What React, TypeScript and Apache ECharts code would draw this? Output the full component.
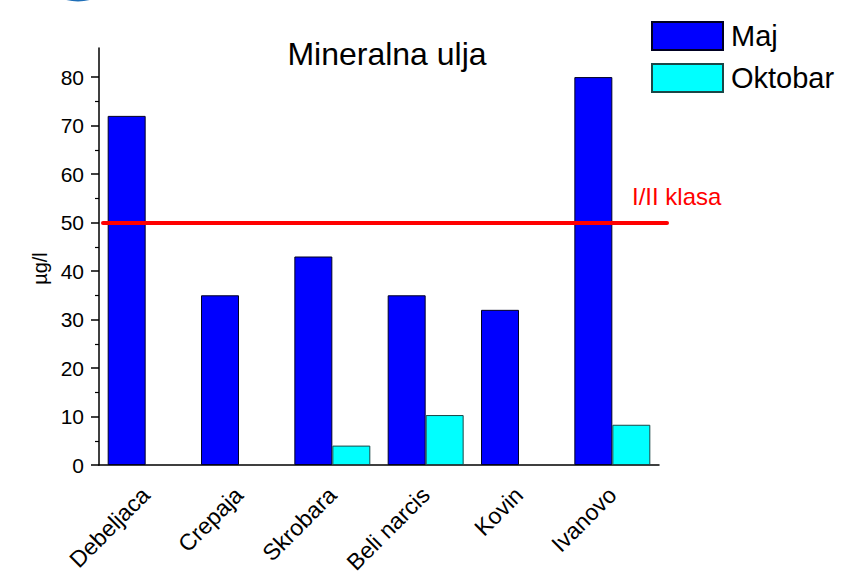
import React, { useEffect, useRef } from "react";
import * as echarts from "echarts";

const categories = ["Debeljaca", "Crepaja", "Skrobara", "Beli narcis", "Kovin", "Ivanovo"];
const majValues: (number | null)[] = [72, 35, 43, 35, 32, 80];
const oktobarValues: (number | null)[] = [null, null, 4, 10.3, null, 8.3];
const yMajorTicks = [0, 10, 20, 30, 40, 50, 60, 70, 80];
const yMinorTicks = [5, 15, 25, 35, 45, 55, 65, 75];
const limitValue = 50;
const limitLabel = "I/II klasa";

const FONT = "'Liberation Sans', Arial, sans-serif";

export default function App() {
  const ref = useRef<HTMLDivElement>(null);
  useEffect(() => {
    const chart = echarts.init(ref.current!, null, { renderer: "svg" });
    const grid = { left: 99, right: 185, top: 48, bottom: 115, outerBoundsMode: "none", containLabel: false };
    chart.setOption({
      animation: false,
      backgroundColor: "#fff",
      title: {
        text: "Mineralna ulja",
        left: 382,
        textAlign: "center",
        top: 33,
        textStyle: { fontFamily: FONT, fontSize: 32, fontWeight: "normal", color: "#000" },
      },
      legend: {
        orient: "vertical",
        left: 646,
        top: 16,
        itemWidth: 71,
        itemHeight: 28,
        itemGap: 12,
        icon: "rect",
        textStyle: { fontFamily: FONT, fontSize: 29, lineHeight: 28, color: "#000", padding: [0, 0, 0, 3] },
        data: ["Maj", "Oktobar"],
      },
      grid,
      xAxis: [
        {
          type: "category",
          data: categories,
          axisLine: { lineStyle: { color: "#000", width: 1.5 } },
          axisTick: { alignWithLabel: true, length: 7, lineStyle: { color: "#000", width: 1.5 } },
          axisLabel: {
            interval: 0,
            rotate: 45,
            margin: 26,
            fontFamily: FONT,
            fontSize: 23,
            color: "#000",
          },
        },
        {
          type: "category",
          data: categories,
          position: "bottom",
          axisLine: { show: false },
          axisTick: { alignWithLabel: false, length: 4, interval: 0, lineStyle: { color: "#000", width: 1.2 } },
          axisLabel: { show: false },
        },
      ],
      yAxis: [
        {
          type: "value",
          min: 0,
          max: 86,
          interval: 10,
          name: "µg/l",
          nameLocation: "middle",
          nameRotate: 90,
          nameGap: 48,
          nameTextStyle: { fontFamily: FONT, fontSize: 20, color: "#000", padding: [0, 24, 0, 0] },
          axisLine: { show: true, lineStyle: { color: "#000", width: 1.5 } },
          axisTick: { show: true, length: 8, customValues: yMajorTicks, lineStyle: { color: "#000", width: 1.5 } },
          axisLabel: { customValues: yMajorTicks, fontFamily: FONT, fontSize: 21, color: "#000", margin: 15 },
          splitLine: { show: false },
        },
        {
          type: "value",
          min: 0,
          max: 86,
          interval: 10,
          position: "left",
          axisLine: { show: false },
          axisTick: { show: true, length: 4, customValues: yMinorTicks, lineStyle: { color: "#000", width: 1.2 } },
          axisLabel: { show: false },
          splitLine: { show: false },
        },
      ],
      series: [
        {
          name: "Maj",
          type: "bar",
          data: majValues,
          barGap: "0%",
          barCategoryGap: "18.6%",
          itemStyle: { color: "#0000ff", borderColor: "#000022", borderWidth: 1 },
          markLine: {
            silent: true,
            symbol: "none",
            lineStyle: { color: "#ff0000", width: 4, type: "solid", cap: "round" },
            label: { show: false },
            data: [[{ xAxis: 0, yAxis: limitValue, x: 103 }, { xAxis: 0, yAxis: limitValue, x: 667 }]],
          },
        },
        {
          name: "Oktobar",
          type: "bar",
          data: oktobarValues,
          barGap: "0%",
          barCategoryGap: "18.6%",
          itemStyle: { color: "#00ffff", borderColor: "#1a4747", borderWidth: 1 },
        },
      ],
      graphic: [
        {
          type: "text",
          left: 632,
          top: 184,
          style: { text: limitLabel, fill: "#ff0000", font: `24px ${FONT}` },
        },
        {
          type: "arc",
          shape: { cx: 78, cy: -44, r: 44, startAngle: Math.PI * 0.2, endAngle: Math.PI * 0.8 },
          style: { stroke: "#1f6fb8", lineWidth: 3, fill: "none" },
        },
      ],
    });
    return () => chart.dispose();
  }, []);
  return (
    <div
      ref={ref}
      style={{ position: "fixed", left: 0, top: 0, width: 844, height: 580, background: "#fff" }}
    />
  );
}
